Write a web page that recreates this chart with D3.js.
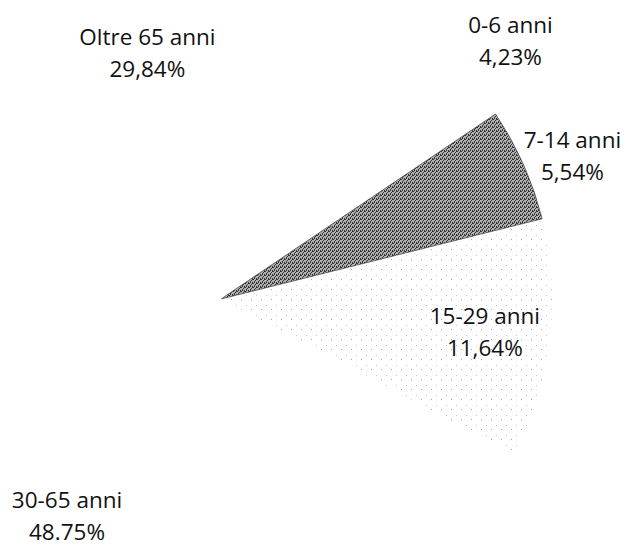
<!DOCTYPE html>
<html>
<head>
<meta charset="utf-8">
<script src="https://cdn.jsdelivr.net/npm/d3@7"></script>
<style>
  html, body { margin: 0; padding: 0; background: #fff; }
  svg { display: block; }
  text { font-family: "Open Sans", Lato, sans-serif; fill: #111111; }
</style>
</head>
<body>
<svg id="chart" width="628" height="550"></svg>
<script>
// Age groups and their share of the population (%)
const categories = ["0-6 anni", "7-14 anni", "15-29 anni", "30-65 anni", "Oltre 65 anni"];
const shares = [4.23, 5.54, 11.64, 48.75, 29.84];
const shareLabels = ["4,23%", "5,54%", "11,64%", "48.75%", "29,84%"];

// Slice fills: plain white, halftone grey, light dots
const fills = ["#ffffff", "url(#halftone)", "url(#dots)", "#ffffff", "#ffffff"];
// Label placement: distance from the centre and a small angular nudge (degrees)
const labelRadius = [387, 379, 266, 267, 256];
const labelNudge = [0, 2, 0.4, 9.6, -3.8];

const width = 628, height = 550;
const cx = 221, cy = 299, radius = 331;
const deg = Math.PI / 180;
const start = 40.8 * deg;

const svg = d3.select("#chart");
const defs = svg.append("defs");

// halftone grey tile
const ht = defs.append("pattern")
  .attr("id", "halftone").attr("patternUnits", "userSpaceOnUse")
  .attr("width", 4).attr("height", 4);
ht.append("rect").attr("width", 4).attr("height", 4).attr("fill", "#b0b0b0");
[[0,0],[2,1],[1,2],[3,3],[3,0],[1,3]].forEach(([x, y]) =>
  ht.append("rect").attr("x", x).attr("y", y).attr("width", 1).attr("height", 1).attr("fill", "#333333"));

// sparse dot tile
const dt = defs.append("pattern")
  .attr("id", "dots").attr("patternUnits", "userSpaceOnUse")
  .attr("width", 10).attr("height", 10);
dt.append("rect").attr("x", 0).attr("y", 0).attr("width", 1).attr("height", 1).attr("fill", "#a6a6a6");
dt.append("rect").attr("x", 5).attr("y", 6).attr("width", 1).attr("height", 1).attr("fill", "#c4c4c4");

const pie = d3.pie().sort(null).value(d => d)
  .startAngle(start).endAngle(start + 2 * Math.PI);
const arcs = pie(shares);
const arc = d3.arc().innerRadius(0).outerRadius(radius);

const g = svg.append("g").attr("transform", `translate(${cx},${cy})`);

g.selectAll("path.slice")
  .data(arcs)
  .join("path")
  .attr("class", "slice")
  .attr("d", arc)
  .attr("fill", (d, i) => fills[i])
  .attr("stroke", (d, i) => i === 1 ? "#4a4a4a" : "none")
  .attr("stroke-width", 0.8);

const labels = g.selectAll("g.label")
  .data(arcs)
  .join("g")
  .attr("class", "label")
  .attr("transform", (d, i) => {
    const a = (d.startAngle + d.endAngle) / 2 + labelNudge[i] * deg;
    const r = labelRadius[i];
    return `translate(${r * Math.sin(a)},${-r * Math.cos(a)})`;
  });

labels.append("text")
  .attr("text-anchor", "middle")
  .attr("font-size", 22.5)
  .attr("y", -9)
  .text((d, i) => categories[i]);
labels.append("text")
  .attr("text-anchor", "middle")
  .attr("font-size", 22.5)
  .attr("y", 23)
  .text((d, i) => shareLabels[i]);
</script>
</body>
</html>
